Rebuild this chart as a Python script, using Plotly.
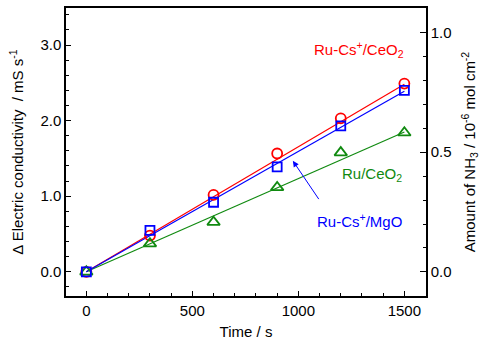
import plotly.graph_objects as go

time_s = [0, 300, 600, 900, 1200, 1500]
ru_cs_ceo2 = [0.0, 0.48, 1.017, 1.565, 2.03, 2.49]
ru_cs_mgo = [0.0, 0.548, 0.92, 1.389, 1.93, 2.40]
ru_ceo2 = [0.0, 0.373, 0.657, 1.117, 1.577, 1.84]

fit_x = [0, 1500]
fit_ru_cs_ceo2 = [0.0, 2.48]
fit_ru_cs_mgo = [0.0, 2.39]
fit_ru_ceo2 = [0.0, 1.85]

RED = "#ff0000"
BLUE = "#0000ff"
GREEN = "#108a10"
FONT = "Arial, Liberation Sans, sans-serif"

fig = go.Figure()
for fy, c in [(fit_ru_cs_ceo2, RED), (fit_ru_ceo2, GREEN), (fit_ru_cs_mgo, BLUE)]:
    fig.add_trace(go.Scatter(x=fit_x, y=fy, mode="lines", line=dict(color=c, width=1.2),
                             showlegend=False, hoverinfo="skip"))
for ys, c, sym, sz in [(ru_cs_ceo2, RED, "circle-open", 10),
                       (ru_ceo2, GREEN, "triangle-up-open", 11),
                       (ru_cs_mgo, BLUE, "square-open", 9)]:
    fig.add_trace(go.Scatter(x=time_s, y=ys, mode="markers",
                             marker=dict(symbol=sym, size=sz, color=c, line=dict(color=c, width=1.8)),
                             showlegend=False))
# invisible trace for the secondary axis
fig.add_trace(go.Scatter(x=[0], y=[0], yaxis="y2", mode="markers", marker=dict(opacity=0),
                         showlegend=False, hoverinfo="skip"))

fig.add_annotation(x=1286, y=2.94, text="Ru-Cs<sup>+</sup>/CeO<sub>2</sub>", showarrow=False,
                   font=dict(color=RED, size=15, family=FONT))
fig.add_annotation(x=1347, y=1.284, text="Ru/CeO<sub>2</sub>", showarrow=False,
                   font=dict(color=GREEN, size=15, family=FONT))
fig.add_annotation(x=1290, y=0.679, text="Ru-Cs<sup>+</sup>/MgO", showarrow=False,
                   font=dict(color=BLUE, size=15, family=FONT))
fig.add_annotation(x=974, y=1.468, ax=1101, ay=0.942, axref="x", ayref="y", xref="x", yref="y",
                   text="", showarrow=True, arrowhead=2, arrowsize=1.2, arrowwidth=1, arrowcolor=BLUE)

axis_common = dict(showline=True, linecolor="black", linewidth=1.5, ticks="inside",
                   tickcolor="black", tickwidth=1.2, showgrid=False, zeroline=False,
                   tickfont=dict(size=15, family=FONT, color="black"))

fig.update_layout(
    width=491, height=350,
    margin=dict(l=66, r=65, t=6, b=54),
    plot_bgcolor="white", paper_bgcolor="white",
    font=dict(family=FONT, color="black"),
    xaxis=dict(range=[-96, 1602], dtick=500, tick0=0, ticklen=5, mirror=True,
               minor=dict(dtick=100, ticks="inside", ticklen=3, tickcolor="black"),
               title=dict(text="Time / s", font=dict(size=15, family=FONT), standoff=9),
               **axis_common),
    yaxis=dict(range=[-0.32, 3.49], dtick=1, tick0=0, tickformat=".1f", ticklen=5,
               minor=dict(dtick=0.2, ticks="inside", ticklen=3, tickcolor="black"),
               title=dict(text="Δ Electric conductivity  / mS s<sup>-1</sup>",
                          font=dict(size=15, family=FONT), standoff=13),
               **axis_common),
    yaxis2=dict(range=[-0.1008, 1.1025], dtick=0.5, tick0=0, tickformat=".1f", ticklen=6,
                overlaying="y", side="right",
                minor=dict(dtick=0.1, ticks="inside", ticklen=3, tickcolor="black"),
                title=dict(text="Amount of NH<sub>3</sub> / 10<sup>-6</sup> mol cm<sup>-2</sup>",
                           font=dict(size=15, family=FONT), standoff=14),
                **axis_common),
)

fig.write_html("out.html")
